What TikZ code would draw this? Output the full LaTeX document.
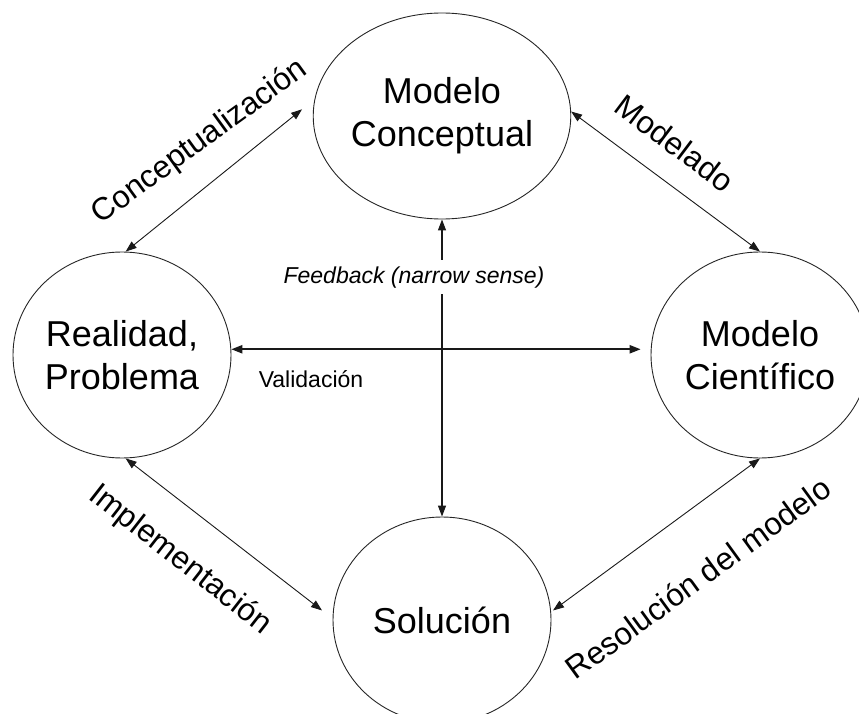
\documentclass[tikz,border=0pt]{standalone}
\usepackage{fontspec}
\setmainfont{Liberation Sans}
\usetikzlibrary{arrows.meta,shapes.geometric}
\begin{document}
\begin{tikzpicture}[x=1pt,y=-1pt,
  state/.style={ellipse,draw=black!85,line width=0.9pt,minimum width=218pt,minimum height=206pt,
    inner sep=0pt,align=center,font=\fontsize{36}{43}\selectfont},
  tip/.tip={Triangle[length=11pt,width=8pt]},
  link/.style={draw=black!90,line width=0.9pt,tip-tip},
  elabel/.style={font=\fontsize{31.5}{36}\selectfont,inner sep=0pt}]
\useasboundingbox (0,0) rectangle (859,714);
\clip (0,0) rectangle (859,714);

\node[state] (mc) at (442,116) {Modelo\\Conceptual};
\node[state] (rp) at (122,355) {Realidad,\\Problema};
\node[state] (ms) at (760,355) {Modelo\\Científico};
\node[state] (so) at (442,620) {Solución};

\draw[link] (rp.88) -- ([xshift=-11pt]mc.177);
\draw[link] (mc.2) -- (ms.90);
\draw[link] (rp.272) -- ([xshift=-11pt]so.175);
\draw[link] (ms.270) -- ([xshift=2pt]so.5);
\draw[link,line width=2pt] (rp.3) -- ([xshift=-10pt]ms.177);
\draw[link,line width=1.2pt] (mc.south) -- (so.north);

\node[fill=white,inner xsep=2pt,inner ysep=6pt,anchor=base,font=\fontsize{23}{28}\selectfont\itshape] (fb) at (414,283) {Feedback (narrow sense)};
\node[anchor=base,font=\fontsize{23}{28}\selectfont] (val) at (311,387) {Validación};

\node[elabel,rotate=36] (l1) at (200,142) {Conceptualización};
\node[elabel,rotate=-37] (l2) at (675,143) {Modelado};
\node[elabel,rotate=-38] (l3) at (180,560) {Implementación};
\node[elabel,rotate=36] (l4) at (698,578) {Resolución del modelo};
\end{tikzpicture}
\end{document}
